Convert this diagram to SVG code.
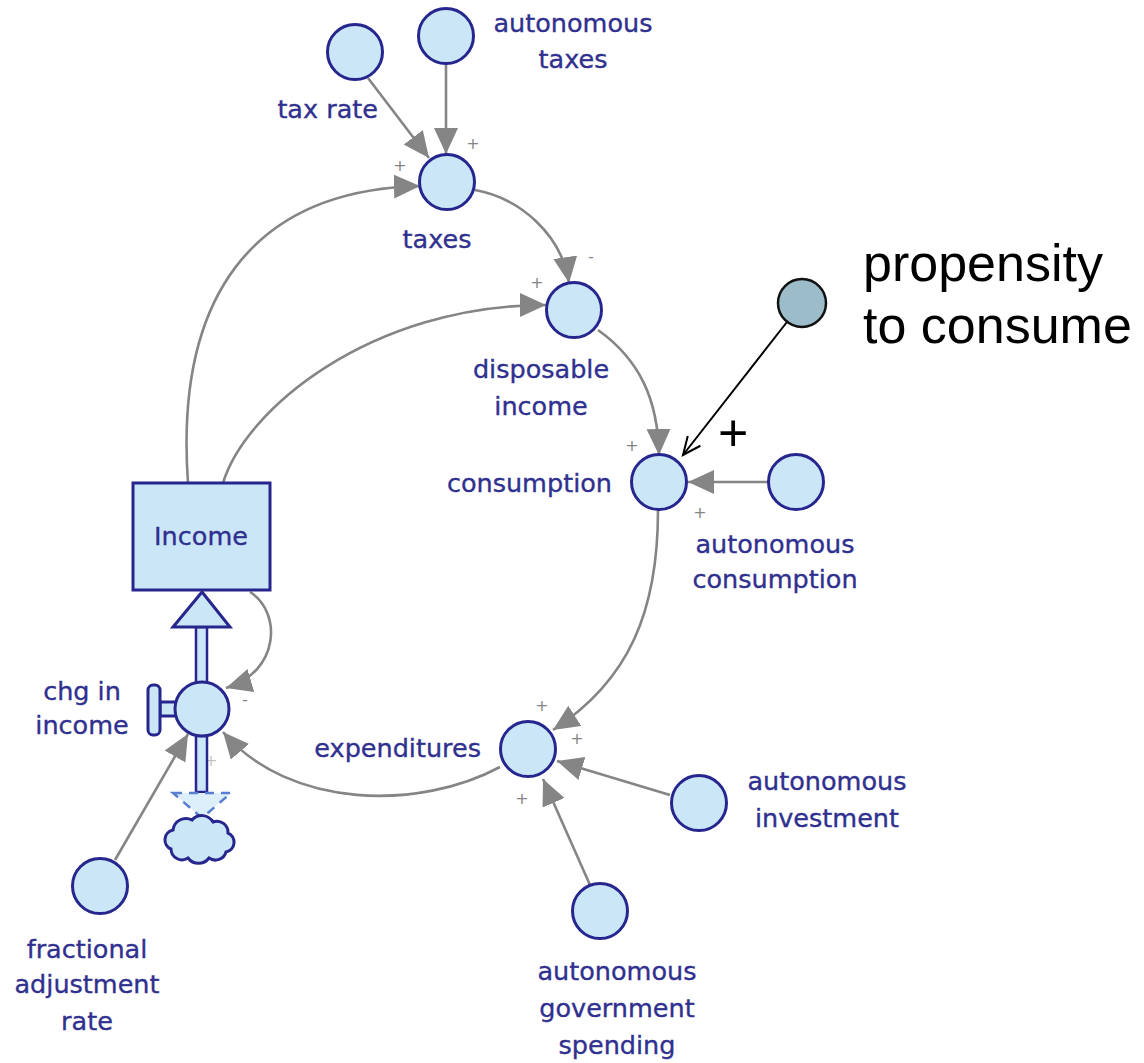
<svg xmlns="http://www.w3.org/2000/svg" width="1144" height="1063" viewBox="0 0 1144 1063">
<style>
.aux{fill:#cbe7f7;stroke:#26268e;stroke-width:3}
.lbl{font-family:"DejaVu Sans",Verdana,sans-serif;font-size:25.5px;fill:#30308f;stroke:#30308f;stroke-width:0.35}
.pol{font-family:"DejaVu Sans",sans-serif;font-size:16px;fill:#858585;text-anchor:middle}
.lnk{fill:none;stroke:#858585;stroke-width:2.6;marker-end:url(#ga)}
.big{font-family:"Liberation Sans",Arial,sans-serif;font-size:52px;fill:#000}
</style>
<defs>
<marker id="ga" markerUnits="userSpaceOnUse" markerWidth="28" markerHeight="26" refX="26" refY="12" orient="auto">
<path d="M0,0 L26,12 L0,24 Z" fill="#858585"/>
</marker>
<marker id="ba" markerUnits="userSpaceOnUse" markerWidth="22" markerHeight="20" refX="19" refY="9" orient="auto">
<path d="M1,1 L19,9 L1,17" fill="none" stroke="#000" stroke-width="2"/>
</marker>
</defs>
<rect width="1144" height="1063" fill="#fff"/>

<g id="connectors">
<path class="lnk" d="M368 78 L429 158"/>
<path class="lnk" d="M446 63 L446 154"/>
<path class="lnk" d="M188 483 C 175 300, 250 190, 420 186"/>
<path class="lnk" d="M223 483 C 245 410, 370 305, 546 305"/>
<path class="lnk" d="M475 190 C 520 198, 562 235, 569 283"/>
<path class="lnk" d="M598 330 C 640 360, 658 400, 659 455"/>
<path class="lnk" d="M768 482 L 688 482"/>
<path class="lnk" d="M658 510 C 658 610, 630 680, 553 730"/>
<path class="lnk" d="M670 795 L 557 761"/>
<path class="lnk" d="M590 885 L 543 779"/>
<path class="lnk" d="M500 767 C 420 810, 290 810, 223 732"/>
<path class="lnk" d="M250 592 C 282 612, 280 672, 226 688"/>
<path class="lnk" d="M115 860 L 188 734"/>
<path d="M787 322 L 683 455" fill="none" stroke="#000" stroke-width="2" marker-end="url(#ba)"/>
</g>

<g id="polarities">
<text class="pol" x="473" y="149">+</text>
<text class="pol" x="400" y="171" font-size="18">+</text>
<text class="pol" x="591" y="262">-</text>
<text class="pol" x="537" y="288">+</text>
<text class="pol" x="632" y="451">+</text>
<text class="pol" x="700" y="518">+</text>
<text class="pol" x="542" y="711">+</text>
<text class="pol" x="577" y="744">+</text>
<text class="pol" x="522" y="804">+</text>
<text class="pol" x="245" y="705">-</text>
<text class="pol" x="211" y="766" fill-opacity="0.5">+</text>
<text class="big" x="718" y="451" font-size="50">+</text>
</g>

<g id="flow">
<rect x="196" y="627" width="11" height="56" fill="#cbe7f7" stroke="#26268e" stroke-width="2.5"/>
<rect x="196" y="736" width="11" height="56" fill="#cbe7f7" stroke="#26268e" stroke-width="2.5"/>
<polygon points="202,592 173,627 230,627" fill="#cbe7f7" stroke="#26268e" stroke-width="3"/>
<polygon points="173,793 231,793 202,818" fill="#dceffb" stroke="#5a7fd0" stroke-width="2.5" stroke-dasharray="9,7"/>
</g>

<g id="cloud">
<path d="M171 849 a10 10 0 0 1 2 -19 a13 13 0 0 1 19 -10 a13 13 0 0 1 21 2 a11 11 0 0 1 15 11 a10 10 0 0 1 -2 19 a11 11 0 0 1 -17 6 a13 13 0 0 1 -21 0 a11 11 0 0 1 -17 -9 z" class="aux"/>
</g>

<g id="income">
<rect x="133" y="483" width="137" height="107" class="aux"/>
<text class="lbl" x="201" y="545" text-anchor="middle">Income</text>
</g>

<g id="chg-in-income">
<rect x="160" y="702" width="16" height="14" class="aux" stroke-width="2.5"/>
<rect x="148" y="685" width="12" height="50" rx="5" class="aux" stroke-width="2.5"/>
<circle cx="202" cy="709" r="27" class="aux"/>
<text class="lbl" x="82" y="700" text-anchor="middle">chg in</text>
<text class="lbl" x="82" y="734" text-anchor="middle">income</text>
</g>

<g id="tax-rate">
<circle cx="355" cy="52" r="27.5" class="aux"/>
<text class="lbl" x="378" y="118" text-anchor="end">tax rate</text>
</g>

<g id="autonomous-taxes">
<circle cx="446" cy="36" r="27.5" class="aux"/>
<text class="lbl" x="573" y="32" text-anchor="middle">autonomous</text>
<text class="lbl" x="573" y="68" text-anchor="middle">taxes</text>
</g>

<g id="taxes">
<circle cx="447" cy="182" r="27.5" class="aux"/>
<text class="lbl" x="437" y="248" text-anchor="middle">taxes</text>
</g>

<g id="disposable-income">
<circle cx="574" cy="310" r="27.5" class="aux"/>
<text class="lbl" x="541" y="378" text-anchor="middle">disposable</text>
<text class="lbl" x="541" y="415" text-anchor="middle">income</text>
</g>

<g id="consumption">
<circle cx="659" cy="482" r="27.5" class="aux"/>
<text class="lbl" x="612" y="492" text-anchor="end">consumption</text>
</g>

<g id="autonomous-consumption">
<circle cx="796" cy="482" r="27.5" class="aux"/>
<text class="lbl" x="775" y="553" text-anchor="middle">autonomous</text>
<text class="lbl" x="775" y="588" text-anchor="middle">consumption</text>
</g>

<g id="expenditures">
<circle cx="528" cy="749" r="27.5" class="aux"/>
<text class="lbl" x="481" y="757" text-anchor="end">expenditures</text>
</g>

<g id="autonomous-investment">
<circle cx="699" cy="803" r="27.5" class="aux"/>
<text class="lbl" x="827" y="790" text-anchor="middle">autonomous</text>
<text class="lbl" x="827" y="827" text-anchor="middle">investment</text>
</g>

<g id="autonomous-government-spending">
<circle cx="600" cy="911" r="27.5" class="aux"/>
<text class="lbl" x="617" y="980" text-anchor="middle">autonomous</text>
<text class="lbl" x="617" y="1017" text-anchor="middle">government</text>
<text class="lbl" x="617" y="1054" text-anchor="middle">spending</text>
</g>

<g id="fractional-adjustment-rate">
<circle cx="100" cy="886" r="27.5" class="aux"/>
<text class="lbl" x="87" y="958" text-anchor="middle">fractional</text>
<text class="lbl" x="87" y="993" text-anchor="middle">adjustment</text>
<text class="lbl" x="87" y="1030" text-anchor="middle">rate</text>
</g>

<g id="propensity-to-consume">
<circle cx="802" cy="303" r="24" fill="#9bbcc8" stroke="#111" stroke-width="2.5"/>
<text class="big" x="863" y="281">propensity</text>
<text class="big" x="863" y="343">to consume</text>
</g>
</svg>
